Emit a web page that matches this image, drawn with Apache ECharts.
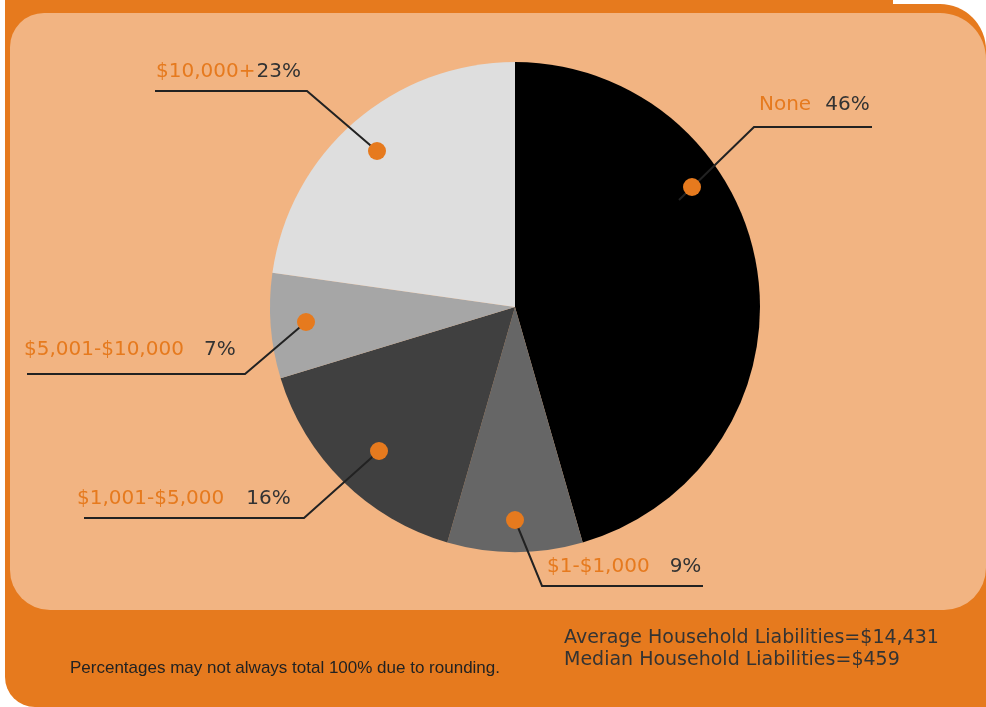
<!DOCTYPE html>
<html>
<head>
<meta charset="utf-8">
<style>
  html, body { margin: 0; padding: 0; background: #fff; }
  #chart { width: 986px; height: 707px; }
</style>
<script src="https://cdn.jsdelivr.net/npm/echarts@6/dist/echarts.min.js"></script>
</head>
<body>
<div id="chart"></div>
<script>
// 数据
const categories = ['None', '$1-$1,000', '$1,001-$5,000', '$5,001-$10,000', '$10,000+']
const percents = [46, 9, 16, 7, 23]
const sliceColors = ['#000000', '#666666', '#404040', '#a6a6a6', '#dedede']
const notes = ['Average Household Liabilities=$14,431', 'Median Household Liabilities=$459']
const footnote = 'Percentages may not always total 100% due to rounding.'

// 标签位置 (像素)
const ORANGE = '#e67a1e'
const PEACH = '#f2b482'
const labelPos = [
  { text: [759, 105], gap: 14, pts: [[679, 200], [754, 127], [872, 127]], dot: [692, 187] },
  { text: [547, 567], gap: 20, pts: [[515, 520], [542, 586], [703, 586]], dot: [515, 520] },
  { text: [77, 499], gap: 22, pts: [[379, 451], [304, 518], [84, 518]], dot: [379, 451] },
  { text: [24, 350], gap: 20, pts: [[306, 322], [245, 374], [27, 374]], dot: [306, 322] },
  { text: [156, 72], gap: 1, pts: [[377, 151], [307, 91], [155, 91]], dot: [377, 151] }
]

const chart = echarts.init(document.getElementById('chart'))

const bg = [
  // 外框
  { type: 'rect', shape: { x: 5, y: 0, width: 888, height: 40 }, style: { fill: ORANGE }, z: -10 },
  { type: 'rect', shape: { x: 5, y: 4, width: 981, height: 703, r: [0, 46, 0, 30] }, style: { fill: ORANGE }, z: -10 },
  // 内框
  { type: 'rect', shape: { x: 10, y: 13, width: 976, height: 597, r: [34, 46, 42, 40] }, style: { fill: PEACH }, z: -9 }
]

const dots = labelPos.map(p => ({
  type: 'circle',
  shape: { cx: p.dot[0], cy: p.dot[1], r: 9 },
  style: { fill: ORANGE },
  z: 100
}))

const texts = [
  { type: 'text', left: 564, top: 627, style: { text: notes.join('\n'), font: '19px "DejaVu Sans"', fill: '#333', lineHeight: 22 }, z: 50 },
  { type: 'text', left: 70, top: 660, style: { text: footnote, font: '17px "Liberation Sans Narrow", "Liberation Sans"', fill: '#222' }, z: 50 }
]

const pieData = categories.map((c, i) => ({
  name: c,
  value: percents[i],
  itemStyle: { color: sliceColors[i] }
}))

chart.setOption({
  animation: false,
  graphic: { elements: bg.concat(dots, texts) },
  series: [
    {
      type: 'pie',
      center: [515, 307],
      radius: 245,
      startAngle: 90,
      clockwise: true,
      silent: true,
      label: { show: false },
      labelLine: { show: false },
      data: pieData
    },
    {
      // 只画标签和引导线，放在扇区上面
      type: 'pie',
      z: 5,
      center: [515, 307],
      radius: 245,
      startAngle: 90,
      clockwise: true,
      avoidLabelOverlap: false,
      silent: true,
      itemStyle: { color: 'rgba(0,0,0,0)' },
      data: categories.map((c, i) => ({
        name: c,
        value: percents[i],
        label: { rich: { p: { padding: [0, 0, 0, labelPos[i].gap] } } }
      })),
      label: {
        show: true,
        position: 'outside',
        formatter: p => '{n|' + p.name + '}{p|' + p.value + '%}',
        rich: {
          n: { color: ORANGE, fontSize: 20, fontFamily: 'DejaVu Sans', lineHeight: 24 },
          p: { color: '#333', fontSize: 20, fontFamily: 'DejaVu Sans', lineHeight: 24 }
        }
      },
      labelLine: { show: true, lineStyle: { color: '#222', width: 2 } },
      labelLayout: params => {
        const lp = labelPos[params.dataIndex]
        return {
          x: lp.text[0],
          y: lp.text[1],
          align: 'left',
          verticalAlign: 'middle',
          labelLinePoints: lp.pts
        }
      }
    }
  ]
})
</script>
</body>
</html>
